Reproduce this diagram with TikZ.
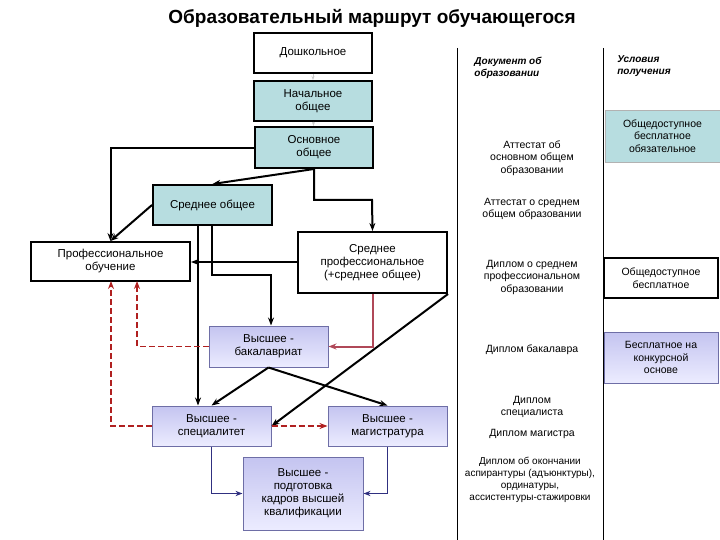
\documentclass[tikz,border=0pt]{standalone}
\usepackage{fontspec}
\setmainfont{Liberation Sans}
\usetikzlibrary{arrows.meta}
\definecolor{teal1}{HTML}{B7DDE0}
\definecolor{blu1}{HTML}{C4C4F0}
\definecolor{blu2}{HTML}{ECECFF}
\definecolor{redd}{HTML}{B02020}
\definecolor{rose}{HTML}{B04858}
\definecolor{navy}{HTML}{303080}
\begin{document}
\begin{tikzpicture}[x=1pt,y=-1pt,
  font=\fontsize{11.5}{13}\selectfont,
  box/.style={draw=black,line width=2pt,align=center,inner sep=0pt},
  wbox/.style={box,fill=white},
  tbox/.style={box,fill=teal1},
  bbox/.style={draw=navy!70,line width=1pt,align=center,inner sep=0pt,top color=blu1,bottom color=blu2},
  arr/.style={line width=2pt,-{Stealth[length=8pt]}},
  darr/.style={line width=1.8pt,redd,dash pattern=on 6pt off 3pt,-{Stealth[length=8pt]}},
  narr/.style={line width=1.5pt,navy,-{Stealth[length=7pt]}},
  faint/.style={line width=1pt,gray!40,-{Stealth[length=4pt]}},
  txt/.style={align=center,font=\fontsize{10.5}{12.5}\selectfont}]
\useasboundingbox (0,0) rectangle (720,540);
\node[font=\bfseries\fontsize{19}{22}\selectfont] (title) at (372,18) {Образовательный маршрут обучающегося};
\node[wbox,minimum width=118pt,minimum height=40pt] (dosh) at (313,53) {Дошкольное};
\node[tbox,minimum width=118pt,minimum height=40pt] (nach) at (313,101) {Начальное\\общее};
\node[tbox,minimum width=118pt,minimum height=41pt] (osn) at (314,147.5) {Основное\\общее};
\node[tbox,minimum width=119pt,minimum height=40pt] (sro) at (212.5,205) {Среднее общее};
\node[wbox,minimum width=159pt,minimum height=39pt] (prof) at (110.5,261.5) {Профессиональное\\обучение};
\node[wbox,minimum width=149pt,minimum height=61pt] (spo) at (372.5,262.5) {Среднее\\профессиональное\\(+среднее общее)};
\node[bbox,minimum width=119pt,minimum height=41pt] (bak) at (268.5,346.5) {Высшее -\\бакалавриат};
\node[bbox,minimum width=119pt,minimum height=40pt] (spec) at (211.5,426) {Высшее -\\специалитет};
\node[bbox,minimum width=119pt,minimum height=40pt] (mag) at (387.5,426) {Высшее -\\магистратура};
\node[bbox,minimum width=120pt,minimum height=73pt] (asp) at (303,493.5) {Высшее -\\подготовка\\кадров высшей\\квалификации};
% columns
\draw[line width=1pt] (457,48) coordinate (c1a) -- (457,540) coordinate (c1b);
\draw[line width=1pt] (603,48) coordinate (c2a) -- (603,540) coordinate (c2b);
\node[txt,font=\bfseries\itshape\fontsize{10}{12}\selectfont,align=left] (hd1) at (508,68) {Документ об\\образовании};
\node[txt,font=\bfseries\itshape\fontsize{10}{12}\selectfont,align=left] (hd2) at (644,66) {Условия\\получения};
\node[txt] (d1) at (532,158) {Аттестат об\\основном общем\\образовании};
\node[txt] (d2) at (532,209) {Аттестат о среднем\\общем образовании};
\node[txt] (d3) at (532,277) {Диплом о среднем\\профессиональном\\образовании};
\node[txt] (d4) at (532,350) {Диплом бакалавра};
\node[txt] (d5) at (532,407) {Диплом\\специалиста};
\node[txt] (d6) at (532,434) {Диплом магистра};
\node[txt,font=\fontsize{10}{12}\selectfont] (d7) at (530,480) {Диплом об окончании\\аспирантуры (адъюнктуры),\\ординатуры,\\ассистентуры-стажировки};
\node[draw=gray!60,fill=teal1,line width=0.8pt,align=center,font=\fontsize{10.5}{12.5}\selectfont,minimum width=115pt,minimum height=52pt] (u1) at (662.5,136) {Общедоступное\\бесплатное\\обязательное};
\node[draw=black,line width=2pt,fill=white,align=center,font=\fontsize{10.5}{12.5}\selectfont,minimum width=114pt,minimum height=40pt] (u2) at (661,278) {Общедоступное\\бесплатное};
\node[draw=navy!70,line width=1pt,top color=blu1,bottom color=blu2,align=center,font=\fontsize{10.5}{12.5}\selectfont,minimum width=114pt,minimum height=51pt] (u3) at (661,357.5) {Бесплатное на\\конкурсной\\основе};
% connectors
\draw[faint] (dosh) -- (nach);
\draw[faint] (nach) -- (osn);
\draw[arr] (osn.west |- 0,148) -| (prof.north);
\draw[arr] (osn.south) -- (sro.north);
\draw[arr] (osn.south) |- (372,200) -- (spo.north);
\draw[arr] (sro.west) -- (prof.north);
\draw[arr] (198,225) -- (spec.north -| 198,0);
\draw[arr] (212,225) |- (271,275) -- (bak.north -| 271,0);
\draw[arr] (spo.west |- 0,262) -- (prof.east |- 0,262);
\draw[line width=2pt,rose,-{Stealth[length=8pt]}] (spo.south) |- (bak.east);
\draw[arr] (spo.south east) -- (spec.east);
\draw[arr] (bak.south) -- (spec.north);
\draw[arr] (bak.south) -- (mag.north);
\draw[darr] (bak.west) -| (137,281);
\draw[darr] (spec.west) -| (111,281);
\draw[darr] (spec.east) -- (mag.west);
\draw[narr] (spec.south) |- (asp.west);
\draw[narr] (mag.south) |- (asp.east);
\end{tikzpicture}
\end{document}
